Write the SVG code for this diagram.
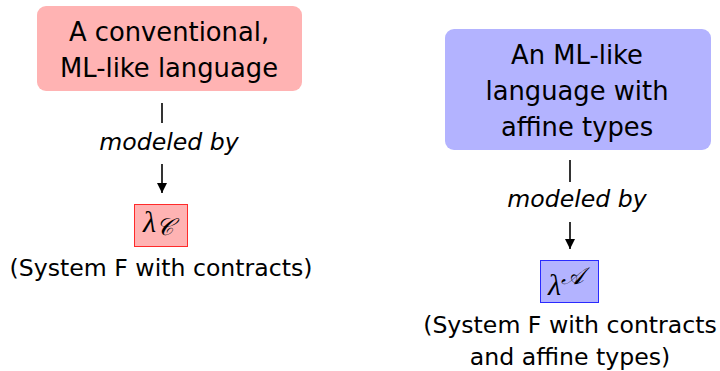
<svg xmlns="http://www.w3.org/2000/svg" width="720" height="371" viewBox="0 0 720 371">
<style>
.t{font-family:"DejaVu Sans","Liberation Sans",sans-serif;font-size:23.6px;fill:#000;text-anchor:middle}
.b{font-size:25.8px}
.i{font-style:italic}
.m{font-family:"Liberation Serif","DejaVu Serif",serif;font-style:italic;fill:#000}
.c{stroke:#000;stroke-width:1.6;fill:none}
</style>
<defs>
<marker id="ah" viewBox="0 0 10 10" refX="10" refY="5" markerWidth="10" markerHeight="10" markerUnits="userSpaceOnUse" orient="auto">
<path d="M0,0 L10,5 L0,10 z" fill="#000"/>
</marker>
</defs>
<g id="left-lang">
<rect x="37" y="6" width="265" height="85" rx="9" fill="#ffb3b3"/>
<text class="t b" x="169" y="41">A conventional,</text>
<text class="t b" x="169" y="77">ML-like language</text>
</g>
<g id="left-calc">
<rect x="134.5" y="204.5" width="53" height="42" fill="#ffb3b3" stroke="#ff2a2a" stroke-width="1"/>
<text class="m" x="143" y="232" font-size="30">λ<tspan font-size="24" dy="3">𝒞</tspan></text>
<text class="t" x="161" y="276">(System F with contracts)</text>
</g>
<g id="right-lang">
<rect x="445" y="29" width="266" height="121" rx="9" fill="#b3b3ff"/>
<text class="t b" x="577" y="64">An ML-like</text>
<text class="t b" x="577" y="100">language with</text>
<text class="t b" x="577" y="136">affine types</text>
</g>
<g id="right-calc">
<rect x="540.5" y="260.5" width="58" height="42" fill="#b3b3ff" stroke="#2a2aff" stroke-width="1"/>
<text class="m" x="548" y="295" font-size="30">λ<tspan font-size="24" dy="-11">𝒜</tspan></text>
<text class="t" x="570" y="333">(System F with contracts</text>
<text class="t" x="570" y="365">and affine types)</text>
</g>
<g id="connectors">
<line class="c" x1="162" y1="103" x2="162" y2="123"/>
<text class="t i" x="169" y="150">modeled by</text>
<line class="c" x1="162" y1="164" x2="162" y2="193" marker-end="url(#ah)"/>
<line class="c" x1="570" y1="160" x2="570" y2="182"/>
<text class="t i" x="577" y="207">modeled by</text>
<line class="c" x1="570" y1="222" x2="570" y2="249" marker-end="url(#ah)"/>
</g>
</svg>
